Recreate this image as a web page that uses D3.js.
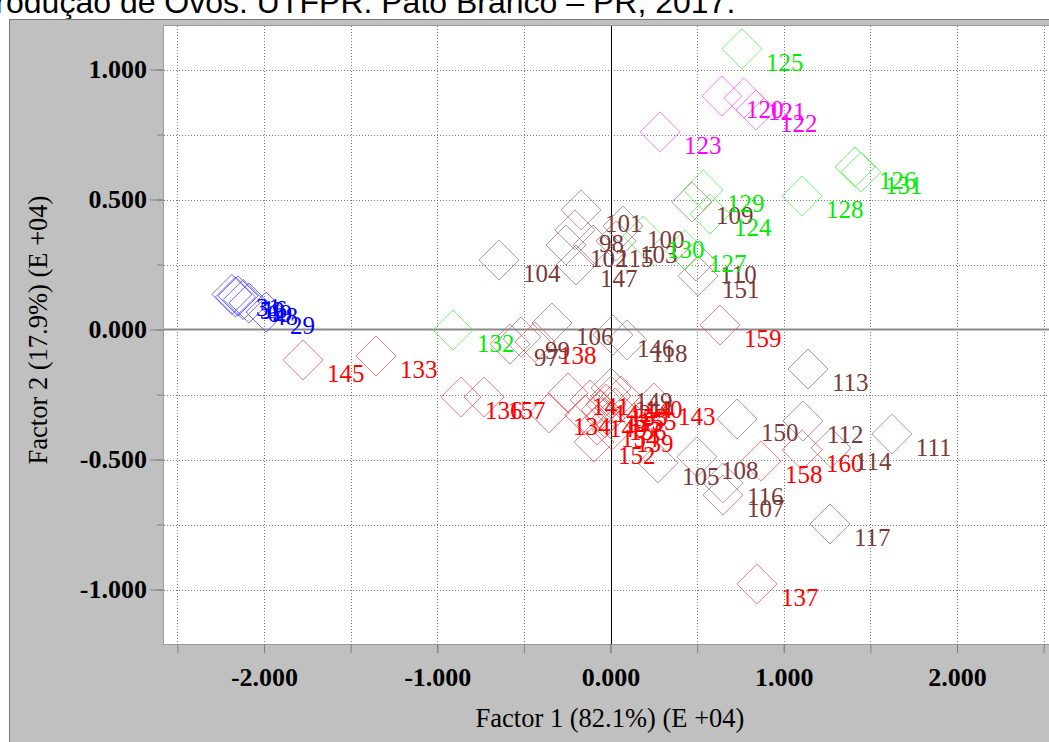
<!DOCTYPE html>
<html><head><meta charset="utf-8">
<script src="https://cdn.jsdelivr.net/npm/d3@7"></script>
<style>body{margin:0;background:#fff;overflow:hidden} svg{display:block}</style>
</head><body><svg id="chart" width="1049" height="742"></svg>
<script>
// Factor scores (E +04) per cluster: labels, Factor 1, Factor 2
const blueLabels = ["31", "59", "16", "48", "69", "29"];
const blueF1 = [-2.185, -2.165, -2.150, -2.087, -2.120, -1.988];
const blueF2 = [0.135, 0.125, 0.129, 0.102, 0.115, 0.067];

const redLabels = ["133", "134", "135", "136", "137", "138", "139", "140", "141", "142", "143", "144",
  "145", "148", "152", "153", "154", "155", "156", "157", "158", "159", "160"];
const redF1 = [-1.354, -0.355, -0.055, -0.863, 0.845, -0.436, 0.009, 0.061, -0.245, -0.118, 0.251, 0.003,
  -1.775, -0.147, -0.095, -0.026, -0.078, 0.026, -0.032, -0.730, 0.868, 0.632, 1.106];
const redF2 = [-0.102, -0.321, -0.310, -0.260, -0.979, -0.048, -0.387, -0.256, -0.244, -0.271, -0.283, -0.256,
  -0.117, -0.329, -0.433, -0.287, -0.367, -0.302, -0.340, -0.260, -0.506, 0.017, -0.463];

const brownLabels = ["97", "98", "99", "100", "101", "102", "103", "104", "105", "106", "107", "108", "109",
  "110", "111", "112", "113", "114", "115", "116", "117", "118", "146", "147", "149", "150", "151"];
const brownF1 = [-0.580, -0.205, -0.517, 0.072, -0.170, -0.257, 0.032, -0.644, 0.274, -0.338, 0.649, 0.499, 0.470,
  0.494, 1.624, 1.111, 1.140, 1.273, -0.101, 0.649, 1.267, 0.095, 0.014, -0.199, 0.003, 0.730, 0.505];
const brownF2 = [-0.056, 0.383, -0.029, 0.398, 0.460, 0.325, 0.340, 0.267, -0.513, 0.025, -0.637, -0.490, 0.490,
  0.263, -0.402, -0.352, -0.152, -0.456, 0.325, -0.590, -0.748, -0.040, -0.021, 0.248, -0.225, -0.344, 0.206];

const greenLabels = ["124", "125", "126", "127", "128", "129", "130", "131", "132"];
const greenF1 = [0.574, 0.759, 1.411, 0.430, 1.105, 0.534, 0.188, 1.446, -0.909];
const greenF2 = [0.444, 1.079, 0.625, 0.306, 0.513, 0.536, 0.360, 0.606, -0.002];

const magentaLabels = ["120", "121", "122", "123"];
const magentaF1 = [0.643, 0.770, 0.840, 0.286];
const magentaF2 = [0.898, 0.890, 0.844, 0.760];

const xTickValues = [-2.5, -2, -1.5, -1, -0.5, 0, 0.5, 1, 1.5, 2, 2.5];
const xTickLabels = [-2, -1, 0, 1, 2];
const yTickValues = [-1, -0.75, -0.5, -0.25, 0, 0.25, 0.5, 0.75, 1];
const yTickLabels = [-1, -0.5, 0, 0.5, 1];

const titleText = "Produção de Ovos. UTFPR. Pato Branco – PR, 2017.";
const xTitle = "Factor 1 (82.1%) (E +04)";
const yTitle = "Factor 2 (17.9%) (E +04)";

const groups = [
  {labels: blueLabels, f1: blueF1, f2: blueF2, text: "#0000ff", mark: "#3a3aff"},
  {labels: redLabels, f1: redF1, f2: redF2, text: "#ff0000", mark: "#ff4a4a"},
  {labels: brownLabels, f1: brownF1, f2: brownF2, text: "#7a3a3a", mark: "#a07070"},
  {labels: greenLabels, f1: greenF1, f2: greenF2, text: "#00ee00", mark: "#40ff40"},
  {labels: magentaLabels, f1: magentaF1, f2: magentaF2, text: "#ff00ff", mark: "#ff50ff"}
];

const svg = d3.select("#chart");
const W = 1049, H = 742;
const plot = {left: 163, top: 25, right: 1070, bottom: 644};
const serif = "'Liberation Serif', 'Times New Roman', serif";

const x = d3.scaleLinear().domain([-2, 2]).range([264, 957]);
const y = d3.scaleLinear().domain([-1, 1]).range([589.5, 69.5]);

// title line
svg.append("text")
  .attr("x", -26).attr("y", 13)
  .attr("font-family", "'Liberation Sans', Arial, sans-serif")
  .attr("font-size", 32)
  .attr("fill", "#000")
  .text(titleText);

// grey chart panel
svg.append("rect")
  .attr("x", 9.5).attr("y", 19.5)
  .attr("width", W + 20).attr("height", H + 20)
  .attr("fill", "#c0c0c0").attr("stroke", "#7a7a7a");

// white plotting area
svg.append("rect")
  .attr("x", plot.left + 0.5).attr("y", plot.top + 0.5)
  .attr("width", plot.right - plot.left).attr("height", plot.bottom - plot.top)
  .attr("fill", "#fff").attr("stroke", "#9a9a9a");

// dotted grid
const grid = svg.append("g").attr("stroke", "#777").attr("stroke-dasharray", "1,2").attr("stroke-width", 1);
grid.selectAll("line.v").data(xTickValues.filter(d => d !== 0)).join("line")
  .attr("x1", d => Math.round(x(d)) + 0.5).attr("x2", d => Math.round(x(d)) + 0.5)
  .attr("y1", plot.top + 1).attr("y2", plot.bottom);
grid.selectAll("line.h").data(yTickValues.filter(d => d !== 0)).join("line")
  .attr("y1", d => Math.round(y(d)) + 0.5).attr("y2", d => Math.round(y(d)) + 0.5)
  .attr("x1", plot.left + 1).attr("x2", plot.right);

// zero axes
svg.append("line")
  .attr("x1", plot.left + 1).attr("x2", plot.right)
  .attr("y1", y(0)).attr("y2", y(0))
  .attr("stroke", "#8a8a8a").attr("stroke-width", 2);
svg.append("line")
  .attr("x1", Math.round(x(0)) + 0.5).attr("x2", Math.round(x(0)) + 0.5)
  .attr("y1", plot.top + 1).attr("y2", plot.bottom)
  .attr("stroke", "#000").attr("stroke-width", 1);

// tick label format with a plain hyphen for negatives
const fmt = v => d3.format(".3f")(v).replace("\u2212", "-");

// left axis: minor and major ticks
const leftMinor = svg.append("g").attr("transform", `translate(${plot.left},0)`)
  .call(d3.axisLeft(y).tickValues(yTickValues).tickSize(6).tickFormat(""));
const leftMajor = svg.append("g").attr("transform", `translate(${plot.left},0)`)
  .call(d3.axisLeft(y).tickValues(yTickLabels).tickSize(13).tickPadding(3).tickFormat(fmt));
[leftMinor, leftMajor].forEach(g => {
  g.select(".domain").remove();
  g.selectAll(".tick line").attr("stroke", "#808080");
});
leftMajor.selectAll(".tick text")
  .attr("font-family", serif)
  .attr("font-weight", "bold").attr("font-size", 26).attr("fill", "#000");

// bottom axis
const bottomMinor = svg.append("g").attr("transform", `translate(0,${plot.bottom})`)
  .call(d3.axisBottom(x).tickValues(xTickValues).tickSize(9).tickFormat(""));
const bottomMajor = svg.append("g").attr("transform", `translate(0,${plot.bottom})`)
  .call(d3.axisBottom(x).tickValues(xTickLabels).tickSize(9).tickPadding(15).tickFormat(fmt));
[bottomMinor, bottomMajor].forEach(g => {
  g.select(".domain").remove();
  g.selectAll(".tick line").attr("stroke", "#808080");
});
bottomMajor.selectAll(".tick text")
  .attr("font-family", serif)
  .attr("font-weight", "bold").attr("font-size", 26).attr("fill", "#000");

// axis titles
svg.append("text")
  .attr("x", 610).attr("y", 727)
  .attr("text-anchor", "middle")
  .attr("font-family", serif)
  .attr("font-size", 26.5).attr("fill", "#000")
  .text(xTitle);
svg.append("text")
  .attr("transform", "translate(47,330) rotate(-90)")
  .attr("text-anchor", "middle")
  .attr("font-family", serif)
  .attr("font-size", 26.5).attr("fill", "#000")
  .text(yTitle);

// observations
const points = [];
groups.forEach(g => g.labels.forEach((lab, i) =>
  points.push({label: lab, f1: g.f1[i], f2: g.f2[i], text: g.text, mark: g.mark})));

svg.append("clipPath").attr("id", "plotclip").append("rect")
  .attr("x", plot.left).attr("y", plot.top).attr("width", plot.right - plot.left).attr("height", plot.bottom - plot.top);

const layer = svg.append("g").attr("clip-path", "url(#plotclip)");
const diamond = "M0,-20L20,0L0,20L-20,0Z";
layer.selectAll("path.pt").data(points).join("path")
  .attr("class", "pt")
  .attr("d", diamond)
  .attr("transform", d => `translate(${x(d.f1)},${y(d.f2)})`)
  .attr("fill", "none")
  .attr("stroke", d => d.mark)
  .attr("stroke-opacity", 0.75)
  .attr("stroke-width", 1);

layer.selectAll("text.lab").data(points).join("text")
  .attr("class", "lab")
  .attr("x", d => x(d.f1) + 24)
  .attr("y", d => y(d.f2) + 22)
  .attr("font-family", serif)
  .attr("font-size", 25)
  .attr("fill", d => d.text)
  .text(d => d.label);
</script>
</body></html>
